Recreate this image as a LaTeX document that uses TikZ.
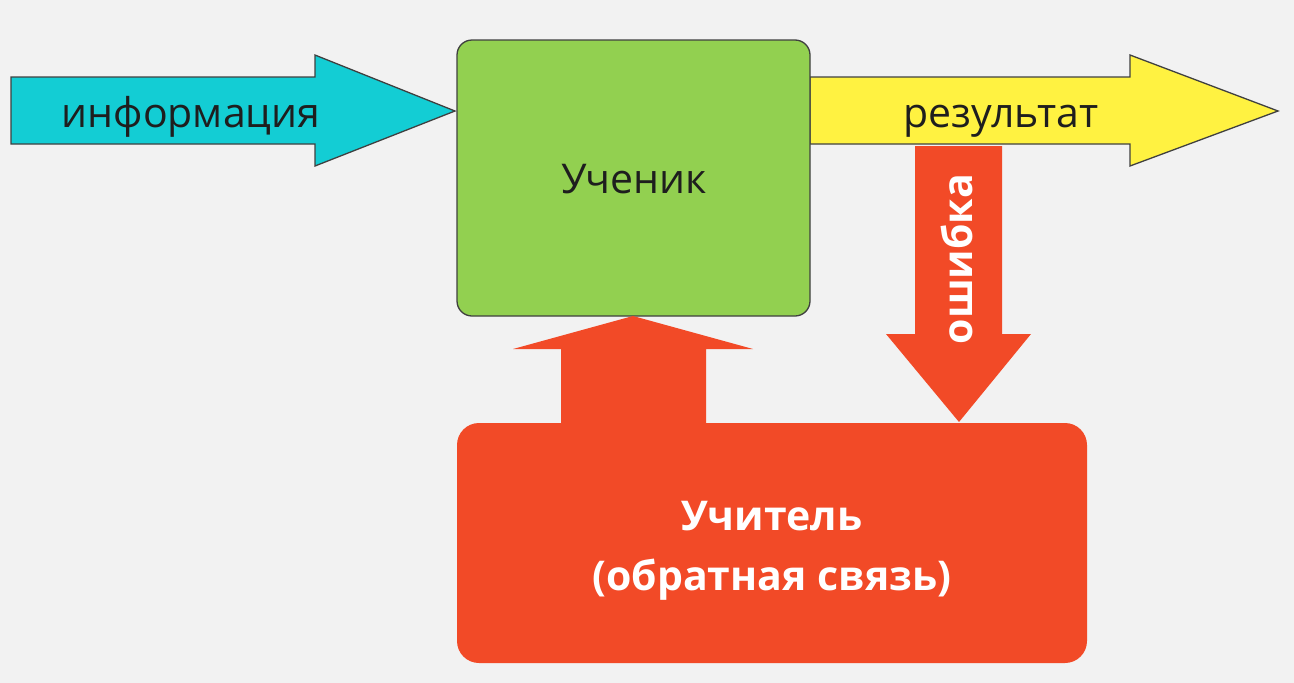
\documentclass[tikz,border=0pt]{standalone}
\usepackage{fontspec}
\setmainfont{Open Sans}
\usepackage{tikz}

\definecolor{bgray}{HTML}{F2F2F2}
\definecolor{cyanf}{HTML}{13CDD4}
\definecolor{greenf}{HTML}{92D050}
\definecolor{yellowf}{HTML}{FFF241}
\definecolor{redf}{HTML}{F24A27}
\definecolor{inkc}{HTML}{1E1E1E}

\begin{document}
\begin{tikzpicture}[x=1pt,y=-1pt,
    outl/.style={draw=inkc!85,line width=1.3pt,line join=miter},
    lbl/.style={text=inkc,font=\fontsize{41}{48}\selectfont,anchor=base,inner sep=0pt},
    wlbl/.style={text=white,font=\fontsize{41}{48}\selectfont\bfseries,anchor=base,inner sep=0pt}]
    \fill[bgray] (0,0) rectangle (1294,683);
    \useasboundingbox (0,0) rectangle (1294,683);
    \coordinate (i1) at (11,77);
    \coordinate (i2) at (315,55);
    \coordinate (itip) at (455,111);
    \coordinate (r1) at (810,77);
    \coordinate (r2) at (1130,55);
    \coordinate (rtip) at (1278,111);
    \draw[outl,fill=cyanf] (i1) -- (315,77) -- (i2) -- (itip) -- (315,166) -- (315,144) -- (11,144) -- cycle;
    \draw[outl,fill=yellowf] (r1) -- (1130,77) -- (r2) -- (rtip) -- (1130,166) -- (1130,144) -- (810,144) -- cycle;
    \draw[outl,fill=greenf,rounded corners=15pt] (457,40) rectangle (810,316);
    \fill[redf,rounded corners=22pt] (457,423) rectangle (1087,663);
    \coordinate (utip) at (633,316);
    \fill[redf] (561,430) -- (561,349) -- (513,349) -- (utip) -- (753,349) -- (706,349) -- (706,430) -- cycle;
    \coordinate (dtip) at (959,422);
    \fill[redf] (915,146) -- (1002,146) -- (1002,334) -- (1031,334) -- (dtip) -- (886,334) -- (915,334) -- cycle;
    \node[lbl] (info) at (191,127) {информация};
    \node[lbl] (res) at (1001,127) {результат};
    \node[lbl] (pupil) at (634,193) {Ученик};
    \node[wlbl,rotate=90] (err) at (972,259) {ошибка};
    \node[wlbl] (teach) at (772,530) {Учитель};
    \node[wlbl] (fb) at (772,590) {(обратная связь)};
\end{tikzpicture}
\end{document}
